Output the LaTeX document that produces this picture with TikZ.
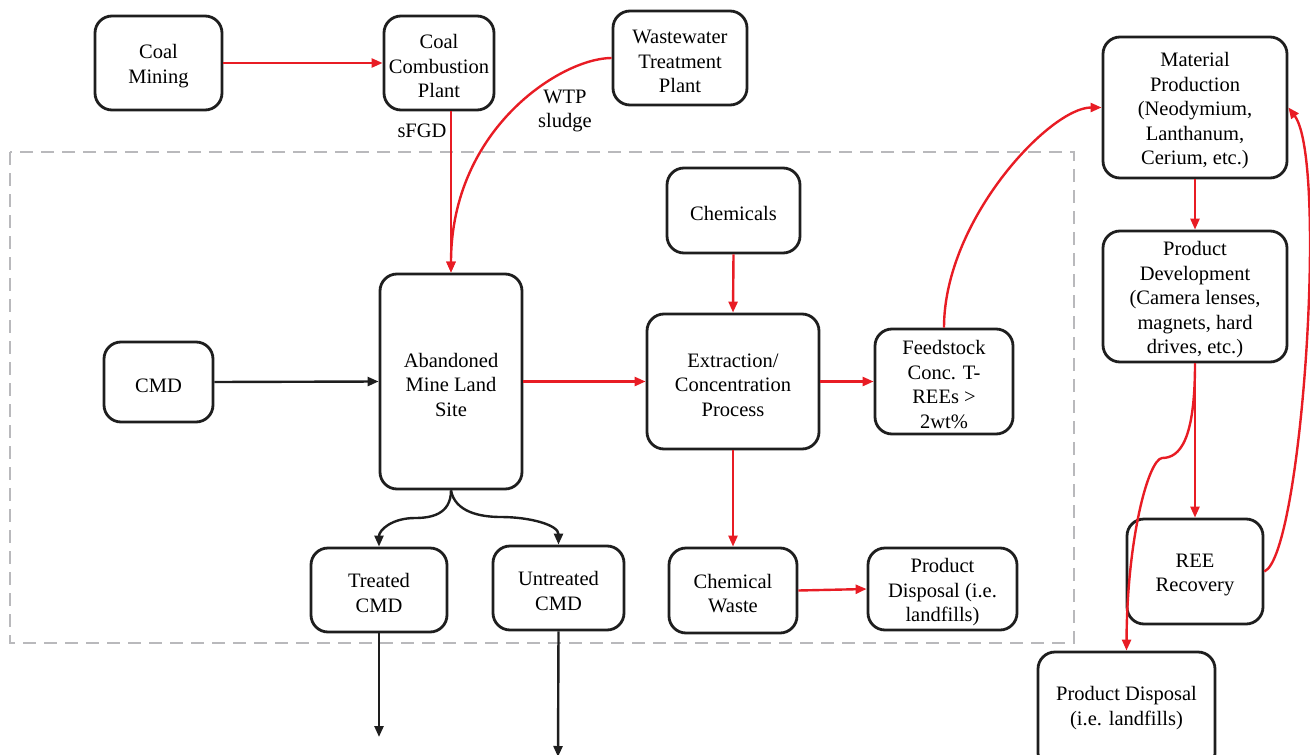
\documentclass[tikz,border=0pt]{standalone}
\usepackage{fontspec}
\setmainfont{Liberation Serif}
\usetikzlibrary{arrows.meta}
\definecolor{myred}{RGB}{232,28,36}
\definecolor{myblack}{RGB}{30,30,30}
\definecolor{dashgray}{RGB}{185,185,188}
\newcommand{\fl}{\rule{0pt}{20.5pt}}
\begin{document}
\begin{tikzpicture}[x=1pt,y=-1pt,
  box/.style={draw=myblack, line width=2.8pt, rounded corners=17pt, align=center,
    font=\fontsize{20.5}{24.5}\selectfont, inner sep=0pt},
  lbl/.style={align=center, font=\fontsize{20.5}{24.5}\selectfont, inner sep=0pt},
  redarrow/.style={draw=myred, line width=2.4pt, -{Triangle[length=11pt,width=9pt]}},
  blkarrow/.style={draw=myblack, line width=2.4pt, -{Triangle[length=11pt,width=9pt]}}]
\useasboundingbox (0,0) rectangle (1310,755);
\begin{scope}
\clip (0,0) rectangle (1310,755);
% dashed boundary
\draw[dashgray, line width=2.2pt, dash pattern=on 13pt off 8pt] (10,152) rectangle (1074,643);

% nodes
\node[box, minimum width=127pt, minimum height=94pt] (cm) at (158.5,63) {\fl Coal\\Mining};
\node[box, minimum width=110pt, minimum height=94pt] (ccp) at (439,63) {\fl Coal\\Combustion\\Plant};
\node[box, minimum width=134pt, minimum height=94pt] (wwtp) at (680,58) {\fl Wastewater\\Treatment\\Plant};
\node[box, minimum width=184pt, minimum height=141pt] (mp) at (1195,107.5) {\fl Material\\Production\\(Neodymium,\\Lanthanum,\\Cerium, etc.)};
\node[box, minimum width=133pt, minimum height=85pt] (chem) at (733.5,210.5) {\fl Chemicals};
\node[box, minimum width=142pt, minimum height=215pt] (aml) at (451,381.5) {\fl Abandoned\\Mine Land\\Site};
\node[box, minimum width=109pt, minimum height=80pt] (cmd) at (158.5,382) {\fl CMD};
\node[box, minimum width=172pt, minimum height=135pt] (ext) at (733,381.5) {\fl Extraction/\\Concentration\\Process};
\node[box, minimum width=138pt, minimum height=105pt] (feed) at (944,381.5) {\fl Feedstock\\Conc. T-\\REEs >\\2wt\%};
\node[box, minimum width=184pt, minimum height=131pt] (pd) at (1195,296.5) {\fl Product\\Development\\(Camera lenses,\\magnets, hard\\drives, etc.)};
\node[box, minimum width=136pt, minimum height=105pt] (ree) at (1195,571.5) {\fl REE\\Recovery};
\node[box, minimum width=136pt, minimum height=84pt] (tcmd) at (379,590) {\fl Treated\\CMD};
\node[box, minimum width=131pt, minimum height=84pt] (ucmd) at (558.5,588) {\fl Untreated\\CMD};
\node[box, minimum width=128pt, minimum height=85pt] (cw) at (733,590.5) {\fl Chemical\\Waste};
\node[box, minimum width=149pt, minimum height=82pt] (pdi) at (942.5,589) {\fl Product\\Disposal (i.e.\\landfills)};
\node[box, minimum width=177pt, minimum height=118pt] (pdo) at (1126.5,711) {};
\node[lbl] (pdotext) at (1126.5,708) {Product Disposal\\(i.e. landfills)};

% labels
\node[lbl] (sfgd) at (422,131) {sFGD};
\node[lbl] (wtp) at (565,111) {WTP\\sludge};

\coordinate (tend) at (379,737);
\coordinate (uend) at (558,757);

% red connectors
\draw[redarrow] (cm.east) -- (ccp.west);
\draw[redarrow] (aml.north |- ccp.south) -- (aml.north);
\draw[redarrow] (wwtp.west) .. controls (562,58) and (451,128) .. (aml.north);
\draw[redarrow] (chem.south) -- (ext.north);
\draw[redarrow] (aml.east) -- (ext.west);
\draw[redarrow] (ext.east) -- (feed.west);
\draw[redarrow] (ext.south) -- (cw.north);
\draw[redarrow] (cw.east) -- (pdi.west);
\draw[redarrow] (feed.north) .. controls (944,220) and (1050,107.5) .. (mp.west);
\draw[redarrow] (mp.south) -- (pd.north);
\draw[redarrow] (pd.south) -- (ree.north);
\draw[redarrow] (pd.south) .. controls (1195,440) and (1180,458) .. (1162,458)
   .. controls (1148,460) and (1127,540) .. (pdo.north);
\draw[redarrow] (ree.east) .. controls (1302,555) and (1328,160) .. (mp.east);

% black connectors
\draw[blkarrow] (cmd.east) -- (aml.west);
\draw[blkarrow] (aml.south) .. controls (451,515) and (430,518) .. (415,518)
   .. controls (392,518) and (379,530) .. (tcmd.north);
\draw[blkarrow] (aml.south) .. controls (455,512) and (480,517) .. (501,517)
   .. controls (530,517) and (558.5,525) .. (ucmd.north);
\draw[blkarrow] (tcmd.south) -- (tend);
\draw[blkarrow] (ucmd.south) -- (uend);
\end{scope}
\end{tikzpicture}
\end{document}
